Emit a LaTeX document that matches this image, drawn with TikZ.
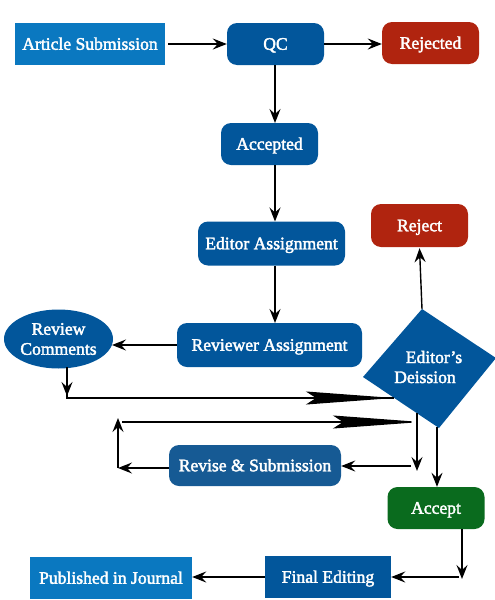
\documentclass[tikz,border=0pt]{standalone}
\usepackage{fontspec}
\setmainfont{Liberation Serif}
\newfontfamily\nodefont[FakeBold=2.2,Ligatures=TeX]{Liberation Serif}
\usetikzlibrary{arrows.meta,shapes.geometric}
\definecolor{lblue}{RGB}{10,120,192}
\definecolor{dblue}{RGB}{2,86,155}
\definecolor{rblue}{RGB}{22,90,148}
\definecolor{dred}{RGB}{176,36,15}
\definecolor{dgreen}{RGB}{10,107,30}
\begin{document}
\begin{tikzpicture}[x=1pt,y=-1pt,
  box/.style={fill=#1, text=white, font=\nodefont\fontsize{17.6}{20}\selectfont, inner sep=0pt, align=center},
  one/.style={text height=12.5pt, text depth=1pt},
  sq/.style={box=#1, one, rectangle},
  rnd/.style={box=#1, one, rectangle, rounded corners=10pt},
  con/.style={line width=1.4pt, -{Stealth[length=14pt,width=11pt,inset=5pt]}},
  big/.style={line width=1.4pt, -{Stealth[length=88pt,width=13pt,inset=10pt]}},
  ln/.style={line width=1.4pt}]
\useasboundingbox (0,0) rectangle (495,600);

% nodes
\node[sq=lblue, minimum width=150pt, minimum height=42pt] (art) at (90,44) {Article Submission};
\node[rnd=dblue, minimum width=97pt, minimum height=42pt] (qc) at (275.5,44) {QC};
\node[rnd=dred, minimum width=97pt, minimum height=42pt] (rej1) at (430.5,43) {Rejected};
\node[rnd=dblue, minimum width=97pt, minimum height=42pt] (acc) at (269.5,144) {Accepted};
\node[rnd=dblue, minimum width=147pt, minimum height=44pt] (edA) at (271.5,243.5) {Editor Assignment};
\node[rnd=dred, minimum width=97pt, minimum height=43pt] (rej2) at (419.5,225.5) {Reject};
\node[rnd=dblue, minimum width=185pt, minimum height=44pt] (revA) at (269.5,345) {Reviewer Assignment};
\node[box=dblue, ellipse, minimum width=109pt, minimum height=59pt] (revC) at (58.5,339) {Review\\Comments};
\node[rnd=rblue, minimum width=172pt, minimum height=41pt] (revS) at (255,465.5) {Revise \& Submission};
\node[rnd=dgreen, minimum width=97pt, minimum height=42pt] (acpt) at (436,508) {Accept};
\node[sq=dblue, minimum width=126pt, minimum height=42pt] (fin) at (328,577) {Final Editing};
\node[sq=lblue, minimum width=162pt, minimum height=42pt] (pub) at (111,578) {Published in Journal};

% diamond
\coordinate (dT) at (422,309);
\coordinate (dR) at (496,358);
\coordinate (dB) at (439,428);
\coordinate (dL) at (363,377);
\fill[dblue] (dT) -- (dR) -- (dB) -- (dL) -- cycle;
\node[box=none, fill=none, text=white] (dec) at (425,367) {\hspace*{18pt}Editor’s\\Deission};

% connection points
\coordinate (c1) at (67,367);
\coordinate (c2) at (67,398);
\coordinate (c2e) at (394,398);
\coordinate (c3) at (118,468);
\coordinate (c4) at (118,418);
\coordinate (c5) at (122,422);
\coordinate (c5e) at (421,422);
\coordinate (c6) at (417,413);
\coordinate (c7) at (417,471);
\coordinate (c8) at (411,466);
\coordinate (c9) at (437,427);
\coordinate (c10) at (462,529);
\coordinate (c11) at (462,579);
\coordinate (c12) at (459,577);

% connectors
\draw[con] ([xshift=3pt]art.east) -- (qc.west);
\draw[con] (qc.east) -- (rej1.west |- qc.east);
\draw[con] (275,65) -- (275,123);
\draw[con] (275,165) -- (275,221.5);
\draw[con] (275,265.5) -- (275,323);
\draw[con] (revA.west) -- (112,345);
\draw[con] (dT) -- ([yshift=-1pt]rej2.south);
\draw[con] (c1) -- (67,396);
\draw[ln] (67,394) -- (c2) -- (c2e);
\draw[big] (c2) -- (c2e);
\draw[con] (revS.west |- c3) -- (c3);
\draw[con] (c3) -- (c4);
\draw[big] (c5) -- (c5e);
\draw[con] (c6) -- (c7);
\draw[con] (c8) -- (revS.east |- c8);
\draw[con] (c9) -- (c9 |- acpt.north);
\draw[con] (c10) -- (c11);
\draw[con] (c12) -- (fin.east |- c12);
\draw[con] (fin.west) -- (pub.east |- fin.west);
\end{tikzpicture}
\end{document}
